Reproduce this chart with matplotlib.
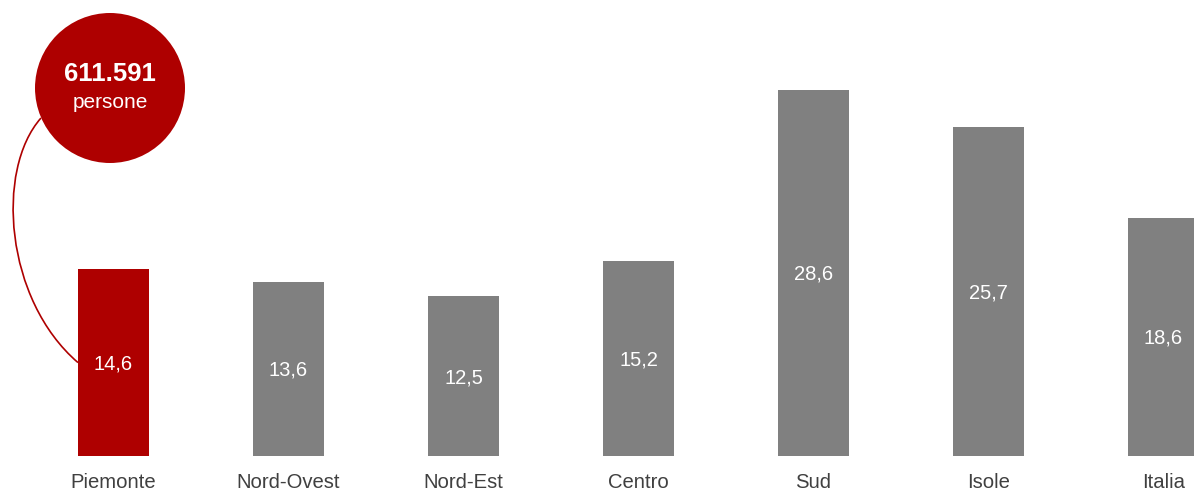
import matplotlib
matplotlib.use("Agg")
import matplotlib.pyplot as plt
from matplotlib.patches import Ellipse, PathPatch
from matplotlib.path import Path

plt.rcParams['font.family'] = ['Liberation Sans', 'DejaVu Sans']

# data
categories = ["Piemonte", "Nord-Ovest", "Nord-Est", "Centro", "Sud", "Isole", "Italia"]
values = [14.6, 13.6, 12.5, 15.2, 28.6, 25.7, 18.6]
bubble_value = "611.591"
bubble_unit = "persone"

red = "#ae0000"
grey = "#808080"

fig = plt.figure(figsize=(11.94, 4.91), dpi=100)
ax = fig.add_axes([0, 0, 1, 1])

px_x = 175.0   # pixels per category
px_y = 12.8    # pixels per unit
x0, y0 = 113.5, 456.0
ax.set_xlim(-x0 / px_x, (1194 - x0) / px_x)
ax.set_ylim(-(491 - y0) / px_y, y0 / px_y)
ax.axis("off")

xs = list(range(len(categories)))
bw = 0.406
colors = [red] + [grey] * (len(categories) - 1)
ax.bar(xs, values, width=bw, color=colors, zorder=2)

for x, v, c in zip(xs, values, categories):
    ax.text(x, v / 2 - 1.5 / px_y, f"{v:.1f}".replace(".", ","), ha="center", va="center",
            color="white", fontsize=14.5, zorder=3)
    ax.text(x, -27 / px_y, c, ha="center", va="center", color="#404040", fontsize=14.6)

# bubble
cx, cy, r = -0.02, 28.75, 75.0
ax.add_patch(Ellipse((cx, cy), 2 * r / px_x, 2 * r / px_y, color=red, zorder=4, lw=0))
ax.text(cx, cy + 14 / px_y, bubble_value, ha="center", va="center", color="white",
        fontsize=18.5, fontweight="bold", zorder=5)
ax.text(cx, cy - 14 / px_y, bubble_unit, ha="center", va="center", color="white",
        fontsize=15, zorder=5)

# connector from bubble to the Piemonte bar
def to_data(px, py):
    return ((px - x0) / px_x, (y0 - py) / px_y)

p0 = to_data(41, 118)
p1 = to_data(-5, 170)
p2 = to_data(5, 300)
p3 = (xs[0] - bw / 2, values[0] / 2)
path = Path([p0, p1, p2, p3], [Path.MOVETO, Path.CURVE4, Path.CURVE4, Path.CURVE4])
ax.add_patch(PathPatch(path, fill=False, edgecolor=red, lw=1.2, zorder=1))

fig.savefig("out.png", dpi=100)
